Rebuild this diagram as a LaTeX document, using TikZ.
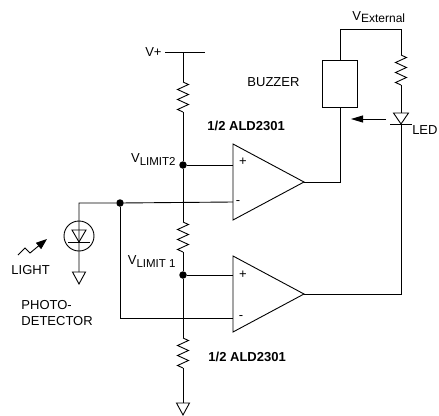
\documentclass[tikz,border=0pt]{standalone}
\usepackage{fontspec}
\setmainfont{Liberation Sans}
\usetikzlibrary{arrows.meta}
\begin{document}
\begin{tikzpicture}[x=1pt,y=-1pt,line width=0.9pt,
  lbl/.style={inner sep=0pt,font=\fontsize{13}{15}\selectfont},
  boldlbl/.style={inner sep=0pt,font=\fontsize{13}{15}\selectfont\bfseries},
  jdot/.style={circle,fill,inner sep=0pt,minimum size=7.5pt},
  resv/.pic={\draw (0,0) -- (5.5,2.5) -- (-5.5,7.5) -- (5.5,12.5) -- (-5.5,17.5) -- (5.5,22.5) -- (-5.5,27.5) -- (0,30);},
  gndsym/.pic={\draw (-6.5,0) -- (6.5,0) -- (0,12) -- cycle;},
  opamp/.pic={\draw (0,-38) -- (71,0) -- (0,38) -- cycle;}]
\useasboundingbox (0,0) rectangle (439,415);

% main rail coordinates
\coordinate (vp) at (183,52);
\coordinate (vpl) at (165,52);
\coordinate (vpr) at (205,52);
\coordinate (r1t) at (183,82);
\coordinate (r1b) at (183,112);
\coordinate (r2t) at (183,222);
\coordinate (r2b) at (183,252);
\coordinate (r3t) at (183,338);
\coordinate (r3b) at (183,368);
\coordinate (gnd) at (183,403);
\node[jdot] (vl2) at (183,165) {};
\node[jdot] (vl1) at (183,275) {};

% op-amps
\pic at (233,182) {opamp};
\pic at (233,294) {opamp};
\coordinate (a1p) at (233,165);
\coordinate (a1m) at (233,202);
\coordinate (a1o) at (304,182);
\coordinate (a2p) at (233,275);
\coordinate (a2m) at (233,318);
\coordinate (a2o) at (304,294);
\node[lbl] (p1) at (243,162) {+};
\node[lbl] (m1) at (238,203) {-};
\node[lbl] (p2) at (243,275) {+};
\node[lbl] (m2) at (241,318) {-};

% rail
\draw (vpl) -- (vpr);
\draw (vp) -- (r1t);
\pic at (r1t) {resv};
\draw (r1b) -- (vl2) -- (r2t);
\pic at (r2t) {resv};
\draw (r2b) -- (vl1) -- (r3t);
\pic at (r3t) {resv};
\draw (r3b) -- (gnd);
\pic at (gnd) {gndsym};
\draw (vl2) -- (a1p);
\draw (vl1) -- (a2p);

% photodetector
\node[jdot] (pd) at (120,203) {};
\coordinate (pdl) at (79,203);
\coordinate (pdb) at (120,318);
\coordinate (pdg) at (79,272);
\node[circle,draw,minimum size=30pt,inner sep=0pt] (pdc) at (79,236) {};
\draw (a1m) -- (pd) -- (pdl) -- (pdg);
\draw (72,230) -- (86,230) -- (79,242) -- cycle;
\draw (68,242) -- (90,242);
\pic at (pdg) {gndsym};
\draw (pd) -- (pdb) -- (a2m);
\draw[-{Triangle[length=11pt,width=8pt]}] (18,255) -- (25,248) -- (30,253) -- (47,239);

% buzzer and LED
\node[draw,minimum width=35pt,minimum height=47pt,inner sep=0pt] (buz) at (340,83.5) {};
\coordinate (vext) at (340,29);
\coordinate (vextr) at (401,29);
\coordinate (r4t) at (401,55);
\coordinate (r4b) at (401,85);
\coordinate (ledt) at (401,113);
\coordinate (ledb) at (401,124);
\coordinate (o1c) at (340,182);
\coordinate (o2c) at (401,294);
\draw (buz.north) -- (vext) -- (vextr) -- (r4t);
\pic at (r4t) {resv};
\draw (r4b) -- (ledt);
\draw (393.5,113) -- (408.5,113) -- (401,124) -- cycle;
\draw (390,124) -- (412,124);
\draw (ledb) -- (o2c) -- (a2o);
\draw (a1o) -- (o1c) -- (buz.south);
\coordinate (arrs) at (386,119);
\coordinate (arre) at (351,119);
\draw[-{Triangle[length=12pt,width=7pt]}] (arrs) -- (arre);

% labels
\node[lbl,anchor=east] (lvp) at (162,52) {V+};
\node[lbl,anchor=west] (lbuz) at (247,82) {BUZZER};
\node[boldlbl,anchor=west] (lald1) at (207,126) {1/2 ALD2301};
\node[boldlbl,anchor=west] (lald2) at (208,357) {1/2 ALD2301};
\node[lbl,anchor=east] (llim2) at (176,160) {V{\fontsize{11.5}{12}\selectfont\raisebox{-3pt}{LIMIT2}}};
\node[lbl,anchor=east] (llim1) at (176,262) {V{\fontsize{11.5}{12}\selectfont\raisebox{-3pt}{LIMIT 1}}};
\node[lbl,anchor=west] (lext) at (352,17) {V{\fontsize{12}{13}\selectfont\raisebox{-2pt}{External}}};
\node[lbl,anchor=east] (lled) at (438,130) {LED};
\node[lbl,anchor=west] (llight) at (11,270) {LIGHT};
\node[lbl,anchor=west] (lphoto) at (21,305) {PHOTO-};
\node[lbl,anchor=west] (ldet) at (21,321) {DETECTOR};
\end{tikzpicture}
\end{document}
